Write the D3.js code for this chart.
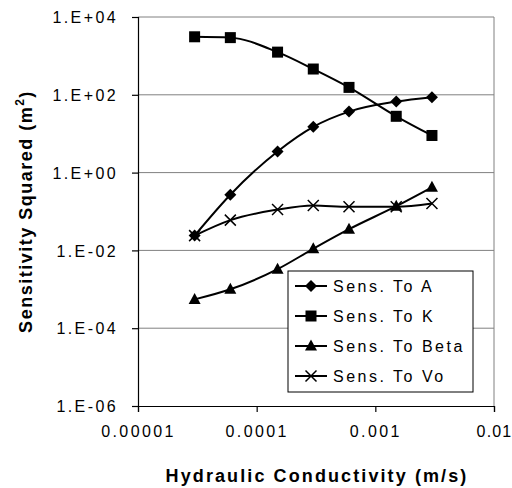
<!DOCTYPE html>
<html>
<head>
<meta charset="utf-8">
<script src="https://cdn.jsdelivr.net/npm/d3@7"></script>
<style>
  body { margin: 0; background: #fff; }
  svg text { font-family: "Liberation Sans", Arial, sans-serif; }
</style>
</head>
<body>
<svg id="vis"></svg>
<script>
// hydraulic conductivity values (m/s)
const conductivity = [3e-5, 6e-5, 1.5e-4, 3e-4, 6e-4, 1.5e-3, 3e-3];

const sensA = [0.024, 0.27, 3.5, 15, 37, 67, 87];
const sensK = [3100, 2950, 1250, 460, 155, 28, 9];
const sensBeta = [0.00055, 0.001, 0.0033, 0.011, 0.035, 0.137, 0.42];
const sensVo = [0.024, 0.06, 0.112, 0.143, 0.132, 0.132, 0.16];

const seriesNames = ["Sens. To A", "Sens. To K", "Sens. To Beta", "Sens. To Vo"];
const markerTypes = ["diamond", "square", "triangle", "cross"];

const xTicks = [1e-5, 1e-4, 1e-3, 1e-2];
const xTickLabels = ["0.00001", "0.0001", "0.001", "0.01"];
const yTicks = [1e4, 1e2, 1, 1e-2, 1e-4, 1e-6];
const yTickLabels = ["1.E+04", "1.E+02", "1.E+00", "1.E-02", "1.E-04", "1.E-06"];

const width = 512, height = 488;
const margin = {top: 17, right: 18, bottom: 82, left: 138};

const svg = d3.select("#vis")
  .attr("width", width)
  .attr("height", height);

const x = d3.scaleLog()
  .domain([1e-5, 1e-2])
  .range([margin.left, width - margin.right]);

const y = d3.scaleLog()
  .domain([1e-6, 1e4])
  .range([height - margin.bottom, margin.top]);

// grid lines
svg.append("g")
  .selectAll("line")
  .data(yTicks.slice(0, -1))
  .join("line")
    .attr("x1", x.range()[0])
    .attr("x2", x.range()[1])
    .attr("y1", d => y(d))
    .attr("y2", d => y(d))
    .attr("stroke", "#808080")
    .attr("stroke-width", 1);

// right border
svg.append("line")
  .attr("x1", x.range()[1]).attr("x2", x.range()[1])
  .attr("y1", y.range()[1]).attr("y2", y.range()[0])
  .attr("stroke", "#808080");

// axes
const xAxis = svg.append("g")
  .attr("transform", `translate(0,${y.range()[0]})`)
  .call(d3.axisBottom(x).tickValues(xTicks)
    .tickFormat((d, i) => xTickLabels[i]).tickSize(6).tickPadding(14));

const yAxis = svg.append("g")
  .attr("transform", `translate(${x.range()[0]},0)`)
  .call(d3.axisLeft(y).tickValues(yTicks)
    .tickFormat((d, i) => yTickLabels[i]).tickSize(6).tickPadding(14));

[xAxis, yAxis].forEach(ax => {
  ax.select(".domain").attr("stroke", "#000").attr("stroke-width", 1.2);
  ax.selectAll(".tick line").attr("stroke", "#000").attr("stroke-width", 1.2);
  ax.selectAll(".tick text")
    .attr("fill", "#000")
    .style("font-size", "16px")
    .style("letter-spacing", "2.4px");
});
yAxis.selectAll(".tick text").attr("dy", "0.35em");
// last x label sits at the page edge like the original, pull it in a little
xAxis.selectAll(".tick text").filter((d, i) => i === xTicks.length - 1)
  .style("letter-spacing", "1.2px");

// axis titles
svg.append("text")
  .attr("x", (x.range()[0] + x.range()[1]) / 2 + 1)
  .attr("y", 482)
  .attr("text-anchor", "middle")
  .style("font-size", "18px")
  .style("font-weight", "bold")
  .style("letter-spacing", "2.1px")
  .text("Hydraulic Conductivity (m/s)");

const yTitle = svg.append("text")
  .attr("transform", `translate(32,${(y.range()[0] + y.range()[1]) / 2}) rotate(-90)`)
  .attr("text-anchor", "middle")
  .style("font-size", "18px")
  .style("font-weight", "bold")
  .style("letter-spacing", "1.5px");
yTitle.append("tspan").text("Sensitivity Squared (m");
yTitle.append("tspan").attr("dy", -8).style("font-size", "12px").text("2");
yTitle.append("tspan").attr("dy", 8).text(")");

// markers
function drawMarker(g, type) {
  if (type === "diamond") {
    g.append("path").attr("d", "M0,-6L6,0L0,6L-6,0Z").attr("fill", "#000");
  } else if (type === "square") {
    g.append("rect").attr("x", -5.5).attr("y", -5.5).attr("width", 11).attr("height", 11).attr("fill", "#000");
  } else if (type === "triangle") {
    g.append("path").attr("d", "M0,-6.5L6,4.5L-6,4.5Z").attr("fill", "#000");
  } else {
    g.append("path").attr("d", "M-5.5,-5.5L5.5,5.5M-5.5,5.5L5.5,-5.5")
      .attr("stroke", "#000").attr("stroke-width", 1.5).attr("fill", "none");
  }
}

const allSeries = [sensA, sensK, sensBeta, sensVo];

const line = d3.line()
  .x((d, i) => x(conductivity[i]))
  .y(d => y(d))
  .curve(d3.curveMonotoneX);

allSeries.forEach((vals, si) => {
  const g = svg.append("g");
  g.append("path")
    .datum(vals)
    .attr("d", line)
    .attr("fill", "none")
    .attr("stroke", "#000")
    .attr("stroke-width", 2);
  g.selectAll("g.pt")
    .data(vals)
    .join("g")
      .attr("class", "pt")
      .attr("transform", (d, i) => `translate(${x(conductivity[i])},${y(d)})`)
      .each(function() { drawMarker(d3.select(this), markerTypes[si]); });
});

// legend
const legend = svg.append("g").attr("transform", "translate(288,271)");
legend.append("rect")
  .attr("width", 185).attr("height", 121)
  .attr("fill", "#fff").attr("stroke", "#000").attr("stroke-width", 1);

seriesNames.forEach((name, i) => {
  const row = legend.append("g").attr("transform", `translate(0,${15 + i * 30})`);
  row.append("line")
    .attr("x1", 7).attr("x2", 39)
    .attr("stroke", "#000").attr("stroke-width", 2);
  const m = row.append("g").attr("transform", "translate(23,0)");
  drawMarker(m, markerTypes[i]);
  row.append("text")
    .attr("x", 45).attr("dy", "0.35em")
    .style("font-size", "16px")
    .style("letter-spacing", "2.5px")
    .text(name);
});
</script>
</body>
</html>
